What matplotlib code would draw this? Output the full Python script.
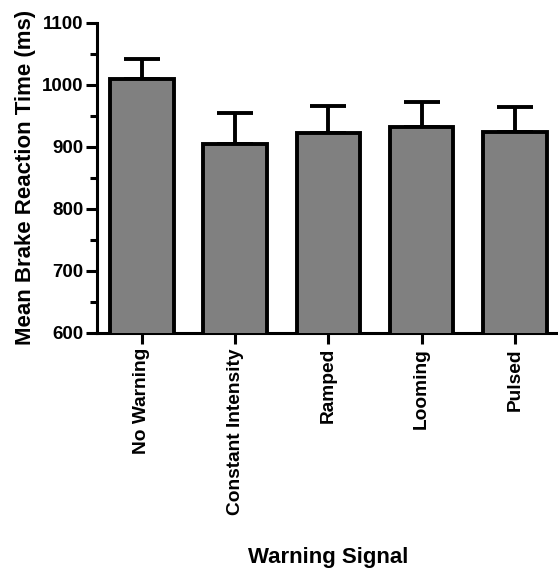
"""
Mean brake reaction time by warning signal type (bar chart with SEM).
"""

import matplotlib
matplotlib.use("Agg")
import matplotlib.pyplot as plt
from matplotlib.ticker import MultipleLocator


CATEGORIES = ["No Warning", "Constant Intensity", "Ramped", "Looming", "Pulsed"]
MEAN_RT    = [1010, 905, 922, 932, 924]
ERR_UP     = [32, 49, 43, 41, 40]

BAR_COLOR  = "#808080"
LW         = 2.8

plt.rcParams["font.family"] = ["Liberation Sans", "DejaVu Sans"]
plt.rcParams["font.weight"] = "bold"

fig = plt.figure(figsize=(5.58, 5.69), dpi=100)
ax = fig.add_axes([0.174, 0.415, 0.824, 0.545])

x = list(range(len(CATEGORIES)))
ax.bar(x, MEAN_RT, width=0.68, color=BAR_COLOR, edgecolor="black",
       linewidth=LW, zorder=3)
ax.errorbar(x, MEAN_RT, yerr=[[0] * len(ERR_UP), ERR_UP], fmt="none",
            ecolor="black", elinewidth=LW, capsize=13, capthick=LW, zorder=2)

ax.set_ylim(600, 1100)
ax.set_xlim(-0.48, 4.45)
ax.yaxis.set_major_locator(MultipleLocator(100))
ax.yaxis.set_minor_locator(MultipleLocator(50))

ax.set_xticks(x)
ax.set_xticklabels(CATEGORIES, rotation=90, fontsize=13.8, fontweight="bold")
for lbl in ax.get_yticklabels():
    lbl.set_fontweight("bold")
ax.tick_params(axis="y", labelsize=13.5, width=2.2, length=8, pad=2)
ax.tick_params(axis="y", which="minor", width=2.2, length=5)
ax.tick_params(axis="x", width=2.2, length=8, pad=3)

for side in ("top", "right"):
    ax.spines[side].set_visible(False)
for side in ("left", "bottom"):
    ax.spines[side].set_linewidth(2.2)

ax.set_ylabel("Mean Brake Reaction Time (ms)", fontsize=16,
              fontweight="bold", labelpad=4)
fig.text(0.588, 0.02, "Warning Signal", ha="center", va="center",
         fontsize=16, fontweight="bold")

fig.savefig("out.png", dpi=100)
